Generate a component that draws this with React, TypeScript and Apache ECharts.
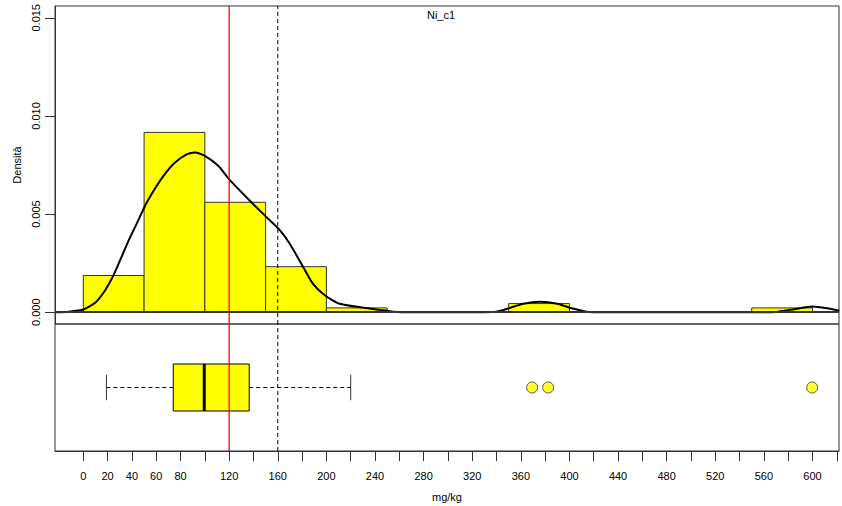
import React, { useEffect, useRef } from "react";
import * as echarts from "echarts";

// Histogram bins (mg/kg) and densities
const binStart = [0, 50, 100, 150, 200, 350, 550];
const binEnd = [50, 100, 150, 200, 250, 400, 600];
const binDensity = [0.00187, 0.00916, 0.0056, 0.00232, 0.00022, 0.00044, 0.00022];

// Kernel density curve
const densX = [-23, -12, 0, 10, 18, 25, 32, 38, 45, 51, 59, 66, 75, 85, 92, 100, 111, 121, 137, 151, 162, 170, 181, 189, 199, 211, 228, 244, 255, 270, 300, 330, 340, 350, 362, 376, 390, 402, 414, 430, 500, 560, 572, 585, 600, 612, 622];
const densY = [0, 0.00003, 0.00014, 0.0005, 0.00112, 0.0019, 0.0029, 0.00375, 0.00465, 0.00545, 0.0063, 0.00695, 0.0076, 0.00804, 0.00814, 0.00797, 0.00746, 0.0067, 0.00568, 0.00483, 0.00416, 0.00348, 0.00229, 0.00144, 0.00085, 0.00043, 0.00025, 0.00012, 0.00003, 0, 0, 0, 0.00003, 0.0002, 0.00043, 0.00053, 0.00043, 0.0002, 0.00003, 0, 0, 0, 0.00003, 0.00015, 0.00029, 0.0002, 0.00008];

// Boxplot statistics: lower whisker, Q1, median, Q3, upper whisker
const boxStats = [19, 74, 99.5, 136.5, 220];
const outliers = [369.3, 382.5, 599.7];

// Reference lines
const redLineX = 120;
const dashedLineX = 160;

// Axis ticks and labels
const xTickValues = [0, 20, 40, 60, 80, 100, 120, 140, 160, 180, 200, 220, 240, 260, 280, 300, 320, 340, 360, 380, 400, 420, 440, 460, 480, 500, 520, 540, 560, 580, 600, 620];
const xLabelValues = [0, 20, 40, 60, 80, 120, 160, 200, 240, 280, 320, 360, 400, 440, 480, 520, 560, 600];
const yTickValues = [0, 0.005, 0.01, 0.015];

const FONT = "'Liberation Sans', Arial, Helvetica, sans-serif";

const X_RANGE = [-23.3, 621.8];
const TOP_Y = [-0.0006, 0.0156];
const BOT_Y = [0, 1];
const TICK_LEN = 10;

function vLineSeries(idx: number, yRange: number[], x: number, color: string, dash: number[] | null, width: number, z: number) {
  return {
    type: "custom",
    xAxisIndex: idx,
    yAxisIndex: idx,
    data: [[x]],
    silent: true,
    clip: false,
    renderItem: (params: any, api: any) => {
      const a = api.coord([api.value(0), yRange[0]]);
      const b = api.coord([api.value(0), yRange[1]]);
      return {
        type: "line",
        shape: { x1: a[0], y1: a[1], x2: a[0], y2: b[1] },
        style: dash ? { stroke: color, lineWidth: width, lineDash: dash } : { stroke: color, lineWidth: width },
      };
    },
    z,
  };
}

export default function App() {
  const ref = useRef<HTMLDivElement>(null);
  useEffect(() => {
    if (!ref.current) return;
    const chart = echarts.init(ref.current, null, { renderer: "svg" });

    const option: any = {
      animation: false,
      textStyle: { fontFamily: FONT },
      title: {
        text: "Ni_c1",
        left: 441,
        top: 9,
        padding: 0,
        textAlign: "center",
        textStyle: { fontSize: 11, fontWeight: "normal", color: "#000", fontFamily: FONT },
      },
      grid: [
        { left: 55, top: 6, width: 784, height: 318, show: true, borderColor: "#333", borderWidth: 1, backgroundColor: "transparent" },
        { left: 55, top: 324, width: 784, height: 127, show: true, borderColor: "#333", borderWidth: 1, backgroundColor: "transparent" },
      ],
      xAxis: [
        { type: "value", gridIndex: 0, min: X_RANGE[0], max: X_RANGE[1], show: false },
        {
          type: "value",
          gridIndex: 1,
          min: X_RANGE[0],
          max: X_RANGE[1],
          name: "mg/kg",
          nameLocation: "middle",
          nameGap: 40,
          nameTextStyle: { fontSize: 11, color: "#000", fontFamily: FONT },
          axisLine: { show: true, onZero: false, lineStyle: { color: "#333" } },
          axisTick: { show: true, length: TICK_LEN, customValues: xTickValues, lineStyle: { color: "#333" } },
          axisLabel: { customValues: xLabelValues, fontSize: 11, color: "#000", margin: 19, fontFamily: FONT },
          splitLine: { show: false },
        },
      ],
      yAxis: [
        {
          type: "value",
          gridIndex: 0,
          min: TOP_Y[0],
          max: TOP_Y[1],
          name: "Densità",
          nameLocation: "middle",
          nameGap: 33,
          nameRotate: 90,
          nameTextStyle: { fontSize: 11, color: "#000", fontFamily: FONT },
          axisLine: { show: true, onZero: false, lineStyle: { color: "#333" } },
          axisTick: { show: true, inside: false, length: TICK_LEN, customValues: yTickValues, lineStyle: { color: "#333" } },
          axisLabel: {
            customValues: yTickValues,
            rotate: 90,
            fontSize: 11,
            color: "#000",
            margin: 14,
            fontFamily: FONT,
            formatter: (v: number) => v.toFixed(3),
          },
          splitLine: { show: false },
        },
        { type: "value", gridIndex: 1, min: BOT_Y[0], max: BOT_Y[1], show: false },
      ],
      series: [
        {
          type: "custom",
          xAxisIndex: 0,
          yAxisIndex: 0,
          data: binStart.map((s, i) => [s, binEnd[i], binDensity[i]]),
          renderItem: (params: any, api: any) => {
            const p0 = api.coord([api.value(0), api.value(2)]);
            const p1 = api.coord([api.value(1), 0]);
            return {
              type: "rect",
              shape: { x: p0[0], y: p0[1], width: p1[0] - p0[0], height: p1[1] - p0[1] },
              style: { fill: "#ffff00", stroke: "#333", lineWidth: 1 },
            };
          },
          markLine: {
            silent: true,
            symbol: ["none", "none"],
            label: { show: false },
            lineStyle: { color: "#333333", type: "solid", width: 2 },
            data: [{ yAxis: 0 }],
          },
          z: 2,
        },
        {
          // tick marks of the density axis, drawn through the y scale
          type: "custom",
          xAxisIndex: 0,
          yAxisIndex: 0,
          data: yTickValues.map((v) => [X_RANGE[0], v]),
          silent: true,
          clip: false,
          renderItem: (params: any, api: any) => {
            const p = api.coord([api.value(0), api.value(1)]);
            const y = Math.round(p[1]) + 0.5;
            return {
              type: "line",
              shape: { x1: p[0] - TICK_LEN, y1: y, x2: p[0], y2: y },
              style: { stroke: "#333", lineWidth: 1 },
            };
          },
          z: 5,
        },
        {
          type: "line",
          xAxisIndex: 0,
          yAxisIndex: 0,
          data: densX.map((x, i) => [x, densY[i]]),
          showSymbol: false,
          smooth: 0.2,
          color: "#000",
          lineStyle: { color: "#000", width: 2 },
          z: 3,
        },
        vLineSeries(0, TOP_Y, redLineX, "#ff0000", null, 1.3, 4),
        vLineSeries(0, TOP_Y, dashedLineX, "#000000", [4, 3], 1, 4),
        {
          type: "custom",
          xAxisIndex: 1,
          yAxisIndex: 1,
          data: [boxStats],
          renderItem: (params: any, api: any) => {
            const lo = api.value(0), q1 = api.value(1), md = api.value(2), q3 = api.value(3), hi = api.value(4);
            const yc = 0.5, bh = 0.185, ch = 0.1;
            const c = (x: number, y: number) => api.coord([x, y]);
            const pq1t = c(q1, yc + bh), pq3b = c(q3, yc - bh);
            return {
              type: "group",
              children: [
                { type: "line", shape: { x1: c(lo, yc)[0], y1: c(lo, yc)[1], x2: c(q1, yc)[0], y2: c(q1, yc)[1] }, style: { stroke: "#000", lineWidth: 1, lineDash: [4, 3] } },
                { type: "line", shape: { x1: c(q3, yc)[0], y1: c(q3, yc)[1], x2: c(hi, yc)[0], y2: c(hi, yc)[1] }, style: { stroke: "#000", lineWidth: 1, lineDash: [4, 3] } },
                { type: "line", shape: { x1: c(lo, yc - ch)[0], y1: c(lo, yc - ch)[1], x2: c(lo, yc + ch)[0], y2: c(lo, yc + ch)[1] }, style: { stroke: "#333", lineWidth: 1 } },
                { type: "line", shape: { x1: c(hi, yc - ch)[0], y1: c(hi, yc - ch)[1], x2: c(hi, yc + ch)[0], y2: c(hi, yc + ch)[1] }, style: { stroke: "#333", lineWidth: 1 } },
                { type: "rect", shape: { x: pq1t[0], y: pq1t[1], width: pq3b[0] - pq1t[0], height: pq3b[1] - pq1t[1] }, style: { fill: "#ffff00", stroke: "#000", lineWidth: 1 } },
                { type: "line", shape: { x1: c(md, yc - bh)[0], y1: c(md, yc - bh)[1], x2: c(md, yc + bh)[0], y2: c(md, yc + bh)[1] }, style: { stroke: "#000", lineWidth: 3 } },
              ],
            };
          },
          z: 2,
        },
        {
          type: "scatter",
          xAxisIndex: 1,
          yAxisIndex: 1,
          data: outliers.map((x) => [x, 0.5]),
          symbol: "circle",
          symbolSize: 11,
          itemStyle: { color: "#ffff00", borderColor: "#333", borderWidth: 1 },
          z: 3,
        },
        vLineSeries(1, BOT_Y, redLineX, "#ff0000", null, 1.3, 4),
        vLineSeries(1, BOT_Y, dashedLineX, "#000000", [4, 3], 1, 4),
      ],
    };
    chart.setOption(option);
    return () => chart.dispose();
  }, []);
  return (
    <div
      ref={ref}
      style={{ position: "fixed", left: 0, top: 0, width: 842, height: 506, background: "#fff" }}
    />
  );
}
